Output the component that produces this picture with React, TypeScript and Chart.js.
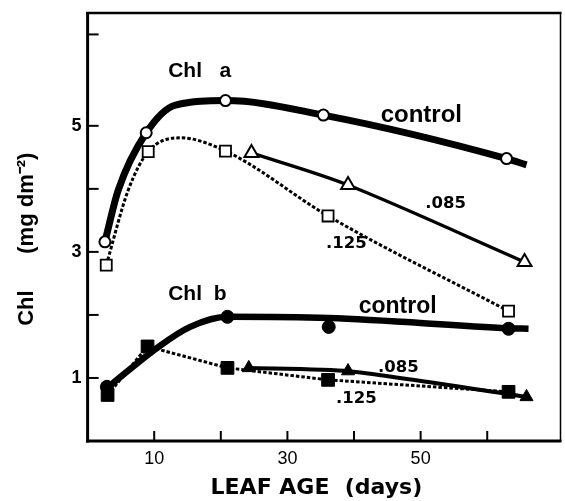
import React, { useEffect, useRef } from "react";
import { Chart, registerables } from "chart.js";

Chart.register(...registerables);

// ---- axes ----
const xMin = 0;
const xMax = 71;
const yMin = 0;
const yMax = 6.79;
const xTickLabels = [10, 30, 50];
const xTickMarks = [10, 20, 30, 40, 50, 60];
const yTickLabels = [1, 3, 5];
const yTickMarks = [1, 2, 3, 4, 5, 6.45];

// ---- measured points (markers) ----
const aControlDays = [2.6, 8.8, 20.7, 35.4, 62.9];
const aControl = [3.16, 4.89, 5.4, 5.17, 4.48];
const a125Days = [2.8, 9.1, 20.7, 36.1, 63.2];
const a125 = [2.79, 4.59, 4.6, 3.57, 2.06];
const a085Days = [24.6, 39.1, 65.6];
const a085 = [4.57, 4.06, 2.84];
const bControlDays = [2.9, 21.0, 36.2, 63.2];
const bControl = [0.86, 1.97, 1.81, 1.78];
const b125Days = [3.0, 9.0, 21.0, 36.1, 63.2];
const b125 = [0.73, 1.5, 1.16, 0.97, 0.78];
const b085Days = [24.2, 39.1, 65.9];
const b085 = [1.16, 1.11, 0.7];

// ---- hand-drawn fitted curves ----
const aControlCurveDays = [2.6, 4.6, 8.8, 13.2, 20.7, 35.4, 62.9, 65.9];
const aControlCurve = [3.16, 3.98, 4.89, 5.33, 5.4, 5.17, 4.48, 4.38];
const a125CurveDays = [2.8, 6.1, 9.1, 13.9, 20.7, 36.1, 63.2];
const a125Curve = [2.79, 3.98, 4.59, 4.81, 4.6, 3.57, 2.06];
const bControlCurveDays = [2.9, 10.6, 15.4, 21.0, 36.2, 63.2, 66.2];
const bControlCurve = [0.84, 1.49, 1.81, 1.97, 1.95, 1.79, 1.78];

const pts = (xs: number[], ys: number[]) => xs.map((x, i) => ({ x, y: ys[i] }));

const annotations = [
  { text: "Chl   a", x: 12.1, y: 5.78, font: "bold 21px 'Liberation Sans'" },
  { text: "control", x: 44.0, y: 5.06, font: "bold 24px 'Liberation Sans'" },
  { text: ".085", x: 50.7, y: 3.7, font: "bold 16.5px 'DejaVu Sans'" },
  { text: ".125", x: 35.8, y: 3.06, font: "bold 16.5px 'DejaVu Sans'" },
  { text: "Chl  b", x: 12.1, y: 2.24, font: "bold 21px 'Liberation Sans'" },
  { text: "control", x: 40.7, y: 2.03, font: "bold 23px 'Liberation Sans'" },
  { text: ".085", x: 43.6, y: 1.1, font: "bold 16.5px 'DejaVu Sans'" },
  { text: ".125", x: 37.3, y: 0.6, font: "bold 16.5px 'DejaVu Sans'" },
];

const decor = {
  id: "decor",
  afterDraw(chart: any) {
    const { ctx, chartArea: a, scales } = chart;
    const xs = scales.x;
    const ys = scales.y;
    ctx.save();
    ctx.strokeStyle = "#000";
    ctx.lineCap = "butt";
    const seg = (x1: number, y1: number, x2: number, y2: number, w: number) => {
      ctx.lineWidth = w;
      ctx.beginPath();
      ctx.moveTo(x1, y1);
      ctx.lineTo(x2, y2);
      ctx.stroke();
    };
    // frame
    seg(a.left, a.top - 1, a.left, a.bottom + 1.5, 3);
    seg(a.left - 1.5, a.bottom, a.right + 1, a.bottom, 3);
    seg(a.left - 1.5, a.top, a.right + 1, a.top, 2.5);
    seg(a.right, a.top, a.right, a.bottom, 1.5);
    // inward tick marks
    yTickMarks.forEach((v) => {
      const p = ys.getPixelForValue(v);
      seg(a.left, p, a.left + 11, p, 2);
    });
    xTickMarks.forEach((v) => {
      const p = xs.getPixelForValue(v);
      seg(p, a.bottom, p, a.bottom - 10, 2);
    });
    // curve labels
    ctx.fillStyle = "#000";
    ctx.textAlign = "left";
    ctx.textBaseline = "alphabetic";
    annotations.forEach((t) => {
      ctx.font = t.font;
      ctx.fillText(t.text, xs.getPixelForValue(t.x), ys.getPixelForValue(t.y));
    });
    ctx.restore();
  },
};

export default function App() {
  const ref = useRef<HTMLCanvasElement | null>(null);

  useEffect(() => {
    if (!ref.current) return;
    const black = "#000";
    const white = "#fff";
    const marker = (data: any, style: string, r: number, fill: string, bw: number) => ({
      data,
      showLine: false,
      pointStyle: style,
      pointRadius: r,
      pointHoverRadius: r,
      pointBackgroundColor: fill,
      pointBorderColor: black,
      pointBorderWidth: bw,
    });
    const curve = (data: any, width: number, opts: any = {}) => ({
      data,
      showLine: true,
      borderColor: black,
      borderWidth: width,
      pointRadius: 0,
      pointHoverRadius: 0,
      fill: false,
      ...opts,
    });

    const chart = new Chart(ref.current, {
      type: "scatter",
      data: {
        datasets: [
          marker(pts(aControlDays, aControl), "circle", 5.5, white, 2),
          marker(pts(a125Days, a125), "rect", 7.8, white, 1.8),
          marker(pts(a085Days, a085), "triangle", 8, white, 2),
          marker(pts(bControlDays, bControl), "circle", 6.5, black, 1),
          marker(pts(b125Days, b125), "rect", 9, black, 1),
          marker(pts(b085Days, b085), "triangle", 7.5, black, 1),
          curve(pts(aControlCurveDays, aControlCurve), 7, { cubicInterpolationMode: "monotone" }),
          curve(pts(a125CurveDays, a125Curve), 3, { cubicInterpolationMode: "monotone", borderDash: [3.5, 2] }),
          curve(pts(a085Days, a085), 3.3, { tension: 0.3 }),
          curve(pts(bControlCurveDays, bControlCurve), 6.5, { cubicInterpolationMode: "monotone" }),
          curve(pts(b125Days, b125), 3, { tension: 0, borderDash: [3.5, 2] }),
          curve(pts(b085Days, b085), 4, { tension: 0.2 }),
        ] as any,
      },
      options: {
        animation: false,
        responsive: false,
        maintainAspectRatio: false,
        events: [],
        layout: { autoPadding: false, padding: { top: 13, right: 4.5, left: 0, bottom: 0 } },
        plugins: {
          legend: { display: false },
          tooltip: { enabled: false },
          title: { display: false },
        },
        scales: {
          x: {
            type: "linear",
            min: xMin,
            max: xMax,
            grid: { display: false, drawTicks: false },
            border: { display: false },
            afterBuildTicks: (s: any) => {
              s.ticks = xTickLabels.map((v) => ({ value: v }));
            },
            afterFit: (s: any) => {
              s.height = 60;
              s.paddingLeft = 0;
              s.paddingRight = 0;
              s.paddingTop = 0;
              s.paddingBottom = 0;
            },
            ticks: {
              color: black,
              padding: 7,
              maxRotation: 0,
              autoSkip: false,
              font: { family: "'Liberation Sans'", size: 18 },
              callback: (v: any) => String(v),
            },
            title: {
              display: true,
              text: "LEAF AGE  (days)  ",
              color: black,
              font: { family: "'DejaVu Sans'", weight: "bold", size: 22 },
              padding: { top: 0, bottom: 0 },
            },
          },
          y: {
            type: "linear",
            min: yMin,
            max: yMax,
            grid: { display: false, drawTicks: false },
            border: { display: false },
            afterBuildTicks: (s: any) => {
              s.ticks = yTickLabels.map((v) => ({ value: v }));
            },
            afterFit: (s: any) => {
              s.width = 87.6;
              s.paddingLeft = 0;
              s.paddingRight = 0;
              s.paddingTop = 0;
              s.paddingBottom = 0;
            },
            ticks: {
              color: black,
              padding: 6,
              font: { family: "'Liberation Sans'", weight: "bold", size: 18 },
              callback: (v: any) => String(v),
            },
            title: {
              display: true,
              text: "Chl      (mg dm⁻²)    ",
              color: black,
              font: { family: "'Liberation Sans'", weight: "bold", size: 22 },
              padding: { top: 14, bottom: 0 },
            },
          },
        },
      } as any,
      plugins: [decor],
    });
    return () => chart.destroy();
  }, []);

  return (
    <div style={{ position: "fixed", left: 0, top: 0, width: 565, height: 501, background: "#fff" }}>
      <canvas ref={ref} width={565} height={501} style={{ display: "block" }} />
    </div>
  );
}
